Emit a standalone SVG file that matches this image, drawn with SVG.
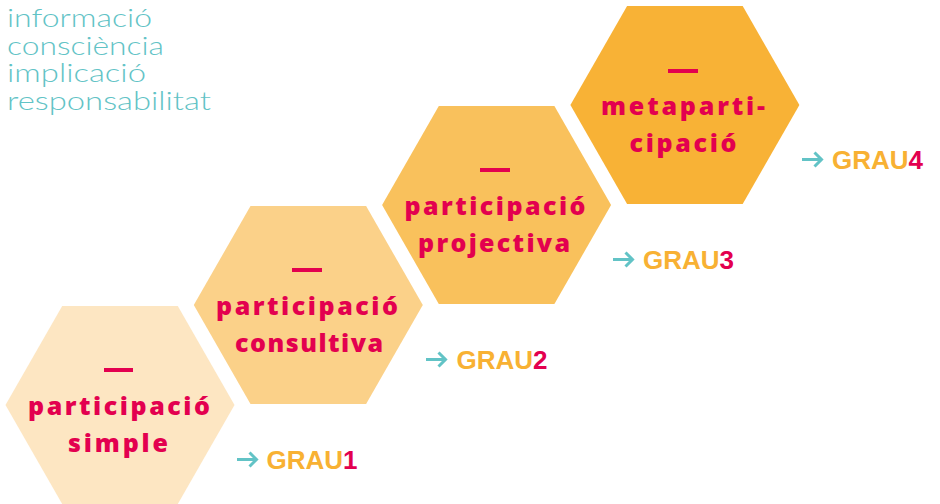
<svg xmlns="http://www.w3.org/2000/svg" width="940" height="504" viewBox="0 0 940 504">
  <style>
    .intro { font-family: "Lato", "Liberation Sans", sans-serif; font-weight: 300; font-size: 25px; fill: #62C3C6; }
    .lbl { font-family: "Open Sans", "Liberation Sans", sans-serif; font-weight: 800; font-size: 25px; fill: #E3004F; text-anchor: middle; }
    .dash { fill: #E3004F; }
    .grau { font-family: "Liberation Sans", Arial, sans-serif; font-weight: 700; font-size: 26px; fill: #F8B133; }
    .num { fill: #E3004F; }
    .arrow { fill: none; stroke: #62C3C6; stroke-width: 3; stroke-linecap: butt; stroke-linejoin: miter; }
  </style>
  <defs>
    <polygon id="hex" points="-57.8,-99 57.8,-99 114.5,0 57.8,99 -57.8,99 -114.5,0"/>
  </defs>
  <rect width="940" height="504" fill="#FFFFFF"/>

  <g id="intro">
    <text class="intro" x="7" y="27" textLength="145" lengthAdjust="spacingAndGlyphs">informació</text>
    <text class="intro" x="7" y="54.5" textLength="157" lengthAdjust="spacingAndGlyphs">consciència</text>
    <text class="intro" x="7" y="82" textLength="139" lengthAdjust="spacingAndGlyphs">implicació</text>
    <text class="intro" x="7" y="110" textLength="204" lengthAdjust="spacingAndGlyphs">responsabilitat</text>
  </g>

  <g id="hex1">
    <use href="#hex" transform="translate(120,405)" fill="#FDE6C2"/>
    <rect class="dash" x="104" y="368" width="29" height="4"/>
    <text class="lbl" x="119" y="415" textLength="182" lengthAdjust="spacing">participació</text>
    <text class="lbl" x="118" y="452" textLength="100" lengthAdjust="spacing">simple</text>
  </g>

  <g id="hex2">
    <use href="#hex" transform="translate(308.3,305)" fill="#FBD189"/>
    <rect class="dash" x="292" y="268" width="30" height="4"/>
    <text class="lbl" x="307" y="315" textLength="182" lengthAdjust="spacing">participació</text>
    <text class="lbl" x="309" y="352" textLength="148" lengthAdjust="spacing">consultiva</text>
  </g>

  <g id="hex3">
    <use href="#hex" transform="translate(496.6,205)" fill="#F9C15C"/>
    <rect class="dash" x="480" y="168" width="30" height="4"/>
    <text class="lbl" x="495" y="215" textLength="181" lengthAdjust="spacing">participació</text>
    <text class="lbl" x="494" y="252" textLength="152" lengthAdjust="spacing">projectiva</text>
  </g>

  <g id="hex4">
    <use href="#hex" transform="translate(684.9,105)" fill="#F8B236"/>
    <rect class="dash" x="668" y="69" width="30" height="4"/>
    <text class="lbl" x="683" y="115" textLength="164" lengthAdjust="spacing">metaparti-</text>
    <text class="lbl" x="683" y="152" textLength="107" lengthAdjust="spacing">cipació</text>
  </g>

  <g id="connectors">
    <path class="arrow" d="M237,459.5 H256 M249.5,452.5 L256.5,459.5 L249.5,466.5"/>
    <path class="arrow" d="M426,359.5 H445 M438.5,352.5 L445.5,359.5 L438.5,366.5"/>
    <path class="arrow" d="M613,259.5 H632 M625.5,252.5 L632.5,259.5 L625.5,266.5"/>
    <path class="arrow" d="M802,159.5 H821 M814.5,152.5 L821.5,159.5 L814.5,166.5"/>
  </g>

  <g id="grau1"><text class="grau" x="266.5" y="468.5">GRAU<tspan class="num">1</tspan></text></g>
  <g id="grau2"><text class="grau" x="456.5" y="368.5">GRAU<tspan class="num">2</tspan></text></g>
  <g id="grau3"><text class="grau" x="643" y="268.5">GRAU<tspan class="num">3</tspan></text></g>
  <g id="grau4"><text class="grau" x="832" y="168.5">GRAU<tspan class="num">4</tspan></text></g>
</svg>
